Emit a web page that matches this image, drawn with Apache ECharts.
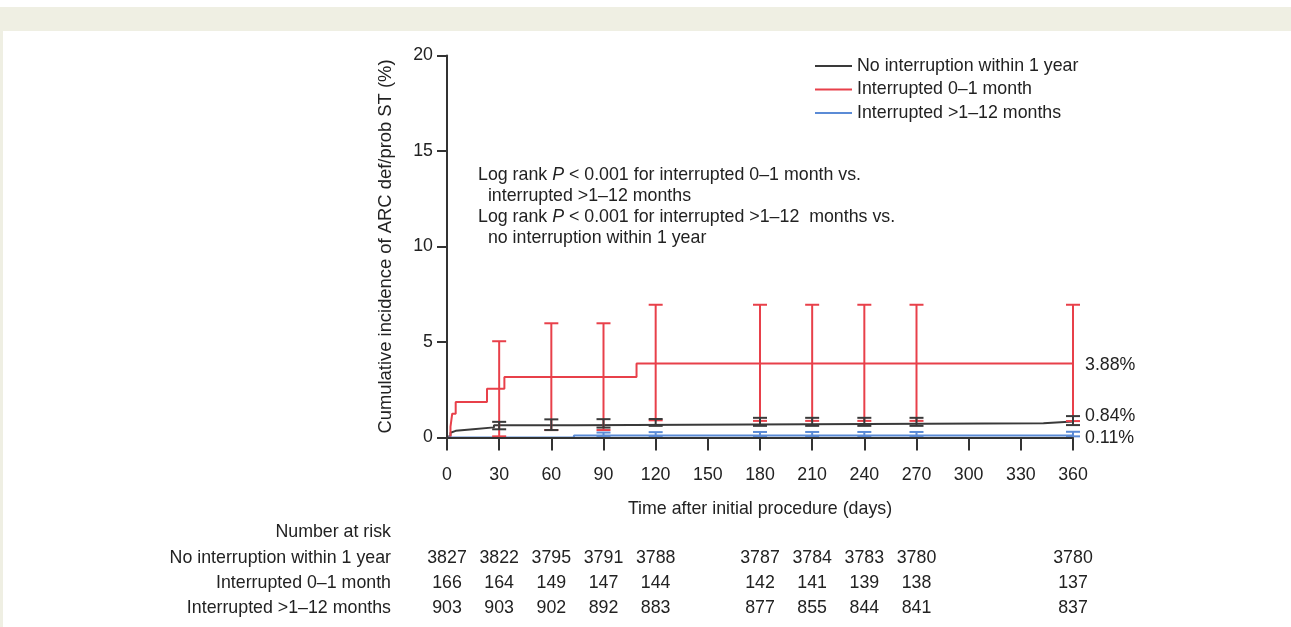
<!DOCTYPE html>
<html>
<head>
<meta charset="utf-8">
<script src="https://cdn.jsdelivr.net/npm/echarts@6/dist/echarts.min.js"></script>
<style>
html,body{margin:0;padding:0;background:#fff;}
#chart{width:1291px;height:627px;}
</style>
</head>
<body>
<div id="chart"></div>
<script>
// ---------- data ----------
const seriesNames = ['No interruption within 1 year', 'Interrupted 0\u20131 month', 'Interrupted >1\u201312 months'];
const xTicks = [0, 30, 60, 90, 120, 150, 180, 210, 240, 270, 300, 330, 360];
const yTicks = [0, 5, 10, 15, 20];

// Kaplan-Meier style cumulative incidence (day, %) – value holds from that day on
const curveNoInterruption = [[0,0],[1,0.1],[2,0.25],[3,0.35],[5,0.43],[15,0.53],[27,0.64],[73,0.74],[343,0.84],[360,0.84]];
const curveInterrupted01 = [[0,0],[2,0.55],[3,1.25],[5,1.86],[23,2.55],[33,3.17],[109,3.88],[360,3.88]];
const curveInterrupted112 = [[0,0],[73,0.11],[360,0.11]];

// confidence intervals (day, lower, upper)
const ciNoInterruption = [[30,0.43,0.82],[60,0.39,0.95],[90,0.52,0.96],[120,0.61,0.97],[180,0.61,1.03],[210,0.61,1.03],[240,0.61,1.03],[270,0.61,1.03],[360,0.65,1.12]];
const ciInterrupted01 = [[30,0.06,5.04],[60,0.39,5.98],[90,0.39,5.98],[120,0.9,6.95],[180,0.87,6.95],[210,0.87,6.95],[240,0.87,6.95],[270,0.87,6.95],[360,0.86,6.95]];
const ciInterrupted112 = [[90,0.04,0.26],[120,0.04,0.28],[180,0.04,0.29],[210,0.04,0.29],[240,0.04,0.29],[270,0.04,0.29],[360,0.06,0.30]];

// number at risk
const riskDays = [0, 30, 60, 90, 120, 180, 210, 240, 270, 360];
const riskNoInterruption = [3827, 3822, 3795, 3791, 3788, 3787, 3784, 3783, 3780, 3780];
const riskInterrupted01 = [166, 164, 149, 147, 144, 142, 141, 139, 138, 137];
const riskInterrupted112 = [903, 903, 902, 892, 883, 877, 855, 844, 841, 837];

// ---------- styling ----------
const FONT = '"Liberation Sans", Arial, sans-serif';
const FS = 17.8;
const TXT = '#222';
const AX = '#333';
const colors = ['#3a3a3a', '#e8404a', '#5b8bd6'];

const grid0 = {left: 447, right: 218, top: 55.5, bottom: 189.5};
const grid1 = {left: 447, right: 218, top: 545.5, bottom: 6.5};

function errorBar(color) {
  return function (params, api) {
    const lo = api.coord([api.value(0), api.value(1)]);
    const hi = api.coord([api.value(0), api.value(2)]);
    const hw = 7;
    const st = {stroke: color, lineWidth: 2, fill: null};
    return {
      type: 'group',
      children: [
        {type: 'line', shape: {x1: lo[0], y1: lo[1], x2: hi[0], y2: hi[1]}, style: st},
        {type: 'line', shape: {x1: lo[0]-hw, y1: lo[1], x2: lo[0]+hw, y2: lo[1]}, style: st},
        {type: 'line', shape: {x1: hi[0]-hw, y1: hi[1], x2: hi[0]+hw, y2: hi[1]}, style: st}
      ]
    };
  };
}

function curve(name, data, color, labelOffset) {
  return {
    name: name, type: 'line', step: 'end', data: data,
    xAxisIndex: 0, yAxisIndex: 0,
    showSymbol: false, symbol: 'none', silent: true,
    lineStyle: {color: color, width: 2},
    itemStyle: {color: color},
    z: 3,
    endLabel: {
      show: true, distance: 12, offset: labelOffset,
      fontFamily: FONT, fontSize: FS, color: TXT,
      formatter: p => p.value[1].toFixed(2) + '%'
    }
  };
}

function ciSeries(data, color) {
  return {
    type: 'custom', data: data, xAxisIndex: 0, yAxisIndex: 0,
    renderItem: errorBar(color), silent: true, z: 4,
    encode: {x: 0, y: [1, 2]}
  };
}

function riskSeries(arr, row) {
  return {
    type: 'scatter', xAxisIndex: 1, yAxisIndex: 1, symbolSize: 0, silent: true,
    itemStyle: {opacity: 1, color: TXT},
    data: riskDays.map((d, i) => [d, row, arr[i]]),
    label: {show: true, position: 'inside', formatter: p => String(p.value[2]),
            fontFamily: FONT, fontSize: FS, color: TXT, textBorderWidth: 0}
  };
}

const chart = echarts.init(document.getElementById('chart'), null, {renderer: 'canvas'});
chart.setOption({
  animation: false,
  backgroundColor: '#fff',
  textStyle: {fontFamily: FONT},
  grid: [grid0, grid1],
  legend: {
    orient: 'vertical', left: 815, top: 57, itemGap: 5.5, padding: 0,
    icon: 'rect', itemWidth: 37, itemHeight: 2,
    data: seriesNames.map((n, i) => ({name: n, itemStyle: {color: colors[i]}})),
    textStyle: {fontFamily: FONT, fontSize: FS, color: TXT},
    selectedMode: false
  },
  xAxis: [{
    type: 'value', gridIndex: 0, min: 0, max: 360, interval: 30, z: 10,
    axisLine: {show: true, lineStyle: {color: AX, width: 2}},
    axisTick: {show: true, length: 13, lineStyle: {color: AX, width: 2}},
    axisLabel: {margin: 29, fontFamily: FONT, fontSize: FS, color: TXT,
                customValues: xTicks},
    splitLine: {show: false},
    name: 'Time after initial procedure (days)', nameLocation: 'middle', nameGap: 63,
    nameTextStyle: {fontFamily: FONT, fontSize: FS, color: TXT}
  }, {
    type: 'value', gridIndex: 1, min: 0, max: 360,
    axisLine: {show: false}, axisTick: {show: false}, axisLabel: {show: false}, splitLine: {show: false}
  }],
  yAxis: [{
    type: 'value', gridIndex: 0, min: 0, max: 20, interval: 5, z: 10,
    axisLine: {show: true, lineStyle: {color: AX, width: 2}},
    axisTick: {show: true, length: 10, lineStyle: {color: AX, width: 2}},
    axisLabel: {margin: 14, fontFamily: FONT, fontSize: FS, color: TXT, customValues: yTicks},
    splitLine: {show: false},
    name: 'Cumulative incidence of ARC def/prob ST (%)', nameLocation: 'middle', nameGap: 52,
    nameTextStyle: {fontFamily: FONT, fontSize: 18.4, color: TXT}
  }, {
    type: 'category', gridIndex: 1, inverse: true, data: seriesNames,
    axisLine: {show: false}, axisTick: {show: false}, splitLine: {show: false},
    axisLabel: {margin: 56, fontFamily: FONT, fontSize: FS, color: TXT, align: 'right'}
  }],
  graphic: [
    {type: 'rect', shape: {x: 0, y: 7, width: 1291, height: 24}, style: {fill: '#efefe3'}, silent: true},
    {type: 'rect', shape: {x: 0, y: 31, width: 3, height: 596}, style: {fill: '#efefe3'}, silent: true},
    {type: 'text', left: 478, top: 164, silent: true, style: {
      text: 'Log rank {i|P} < 0.001 for interrupted 0\u20131 month vs.\n  interrupted >1\u201312 months\nLog rank {i|P} < 0.001 for interrupted >1\u201312  months vs.\n  no interruption within 1 year',
      fontFamily: FONT, fontSize: FS, fill: TXT, lineHeight: 21.3,
      rich: {i: {fontStyle: 'italic', fontFamily: FONT, fontSize: FS, fill: TXT}}
    }},
    {type: 'text', right: 1291 - 391, top: 523, silent: true, style: {
      text: 'Number at risk', fontFamily: FONT, fontSize: FS, fill: TXT, align: 'right'
    }}
  ],
  series: [
    ciSeries(ciInterrupted01, colors[1]),
    ciSeries(ciNoInterruption, colors[0]),
    ciSeries(ciInterrupted112, colors[2]),
    curve(seriesNames[0], curveNoInterruption, colors[0], [0, -5]),
    curve(seriesNames[1], curveInterrupted01, colors[1], [0, 2]),
    curve(seriesNames[2], curveInterrupted112, colors[2], [0, 3]),
    riskSeries(riskNoInterruption, 0),
    riskSeries(riskInterrupted01, 1),
    riskSeries(riskInterrupted112, 2)
  ]
});
</script>
</body>
</html>
